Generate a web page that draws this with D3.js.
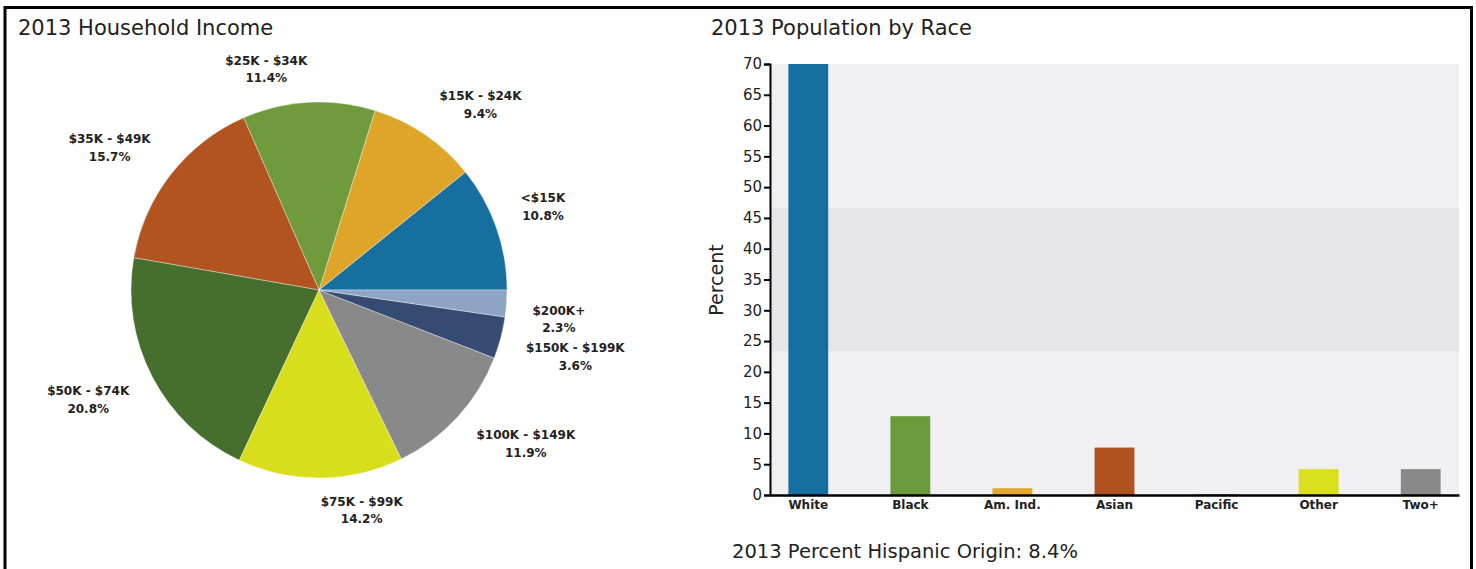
<!DOCTYPE html>
<html>
<head>
<meta charset="utf-8">
<script src="https://cdn.jsdelivr.net/npm/d3@7"></script>
<style>
  body { margin: 0; background: #fff; }
  text { font-family: "DejaVu Sans", Verdana, sans-serif; fill: #222; }
</style>
</head>
<body>
<div id="chart"></div>
<script>
// income pie
const incomeLabels = ['<$15K', '$15K - $24K', '$25K - $34K', '$35K - $49K', '$50K - $74K',
                      '$75K - $99K', '$100K - $149K', '$150K - $199K', '$200K+']
const incomeValues = [10.8, 9.4, 11.4, 15.7, 20.8, 14.2, 11.9, 3.6, 2.3]
const incomeColors = ['#166f9f', '#dfa528', '#6f9b3d', '#b2541f', '#466f2e',
                      '#d8dd1c', '#898989', '#364b72', '#8ea4c4']

// race bars
const races = ['White', 'Black', 'Am. Ind.', 'Asian', 'Pacific', 'Other', 'Two+']
const raceValues = [70.0, 12.8, 1.1, 7.7, 0.1, 4.2, 4.2]
const raceColors = ['#146f9f', '#6a9a3a', '#e0a82e', '#b0521f', '#466f2e', '#d9df1b', '#888888']
const yTicks = [0, 5, 10, 15, 20, 25, 30, 35, 40, 45, 50, 55, 60, 65, 70]
const bandEdges = [0, 23.33, 46.67, 70]
const bandFills = ['#f0f0f2', '#e6e6e8', '#f0f0f2']

const hispanic = 8.4

const svg = d3.select('#chart')
    .append('svg')
        .attr('width', 1476)
        .attr('height', 569)

// frame
svg.append('path')
    .attr('d', 'M5,569 V7.5 H1471.5 V569')
    .attr('fill', 'none')
    .attr('stroke', '#000')
    .attr('stroke-width', 3)

// ---- pie ----
svg.append('text')
    .attr('x', 18).attr('y', 34.5)
    .attr('font-size', 21)
    .text('2013 Household Income')

const cx = 319, cy = 290, r = 188

const pie = d3.pie()
    .sort(null)
    .startAngle(Math.PI / 2)
    .endAngle(Math.PI / 2 - 2 * Math.PI) // counter-clockwise from 3 o'clock
const arcs = pie(incomeValues)
const arc = d3.arc().innerRadius(0).outerRadius(r)

const pieG = svg.append('g').attr('transform', `translate(${cx},${cy})`)
pieG.selectAll('path')
    .data(arcs)
    .enter()
    .append('path')
        .attr('d', arc)
        .attr('fill', (d, i) => incomeColors[i])
        .attr('stroke', 'rgba(255,255,255,0.45)')
        .attr('stroke-width', 0.8)

// labels: nearest corner of the label box sits on a ring outside the pie
const labelRx = r + 26, labelRy = r + 18
const pad = 6, lineGap = 17.5
arcs.forEach((d, i) => {
    const a = (d.startAngle + d.endAngle) / 2
    const px = labelRx * Math.sin(a)
    const py = -labelRy * Math.cos(a)
    const g = pieG.append('g')
    const t1 = g.append('text')
        .attr('text-anchor', 'middle')
        .attr('dominant-baseline', 'central')
        .attr('font-size', 12)
        .attr('font-weight', 'bold')
        .text(incomeLabels[i])
    const t2 = g.append('text')
        .attr('text-anchor', 'middle')
        .attr('dominant-baseline', 'central')
        .attr('font-size', 12)
        .attr('font-weight', 'bold')
        .text(d3.format('.1f')(incomeValues[i]) + '%')
    const w = Math.max(t1.node().getComputedTextLength(), t2.node().getComputedTextLength())
    const boxH = pad * 2 + lineGap
    const left = Math.sin(a) >= 0 ? px : px - w
    const top = Math.cos(a) > 0 ? py - boxH : py
    t1.attr('x', left + w / 2).attr('y', top + pad)
    t2.attr('x', left + w / 2).attr('y', top + pad + lineGap)
})

// ---- bars ----
svg.append('text')
    .attr('x', 711).attr('y', 35)
    .attr('font-size', 21)
    .text('2013 Population by Race')

const x = d3.scaleBand()
    .domain(races)
    .range([770, 1459])
    .paddingInner(0.61)
    .paddingOuter(0.18)

const y = d3.scaleLinear()
    .domain([0, 70])
    .range([495, 64])

svg.selectAll('rect.band')
    .data(bandFills)
    .enter()
    .append('rect')
        .attr('class', 'band')
        .attr('x', 770)
        .attr('width', 1459 - 770)
        .attr('y', (f, i) => y(bandEdges[i + 1]))
        .attr('height', (f, i) => y(bandEdges[i]) - y(bandEdges[i + 1]))
        .attr('fill', f => f)

svg.selectAll('rect.bar')
    .data(raceValues)
    .enter()
    .append('rect')
        .attr('class', 'bar')
        .attr('x', (v, i) => x(races[i]))
        .attr('width', x.bandwidth())
        .attr('y', v => y(v))
        .attr('height', v => y(0) - y(v))
        .attr('fill', (v, i) => raceColors[i])

const yAxis = svg.append('g')
    .attr('transform', 'translate(770,0)')
    .call(d3.axisLeft(y).tickValues(yTicks).tickSize(6).tickPadding(2))
yAxis.selectAll('path, line').attr('stroke', '#000').attr('stroke-width', 2)
yAxis.selectAll('text')
    .attr('font-family', '"DejaVu Sans", Verdana, sans-serif')
    .attr('font-size', 15)
    .attr('fill', '#222')

const xAxis = svg.append('g')
    .attr('transform', 'translate(0,495)')
    .call(d3.axisBottom(x).tickSize(0).tickSizeOuter(0).tickPadding(5))
xAxis.selectAll('path').attr('stroke', '#000').attr('stroke-width', 2.5)
xAxis.selectAll('text')
    .attr('font-family', '"DejaVu Sans", Verdana, sans-serif')
    .attr('font-size', 12)
    .attr('font-weight', 'bold')
    .attr('fill', '#222')

svg.append('text')
    .attr('transform', 'translate(716,280) rotate(-90)')
    .attr('text-anchor', 'middle')
    .attr('dominant-baseline', 'central')
    .attr('font-size', 19)
    .text('Percent')

svg.append('text')
    .attr('x', 732).attr('y', 557.5)
    .attr('font-size', 19.5)
    .text('2013 Percent Hispanic Origin: ' + hispanic + '%')
</script>
</body>
</html>
